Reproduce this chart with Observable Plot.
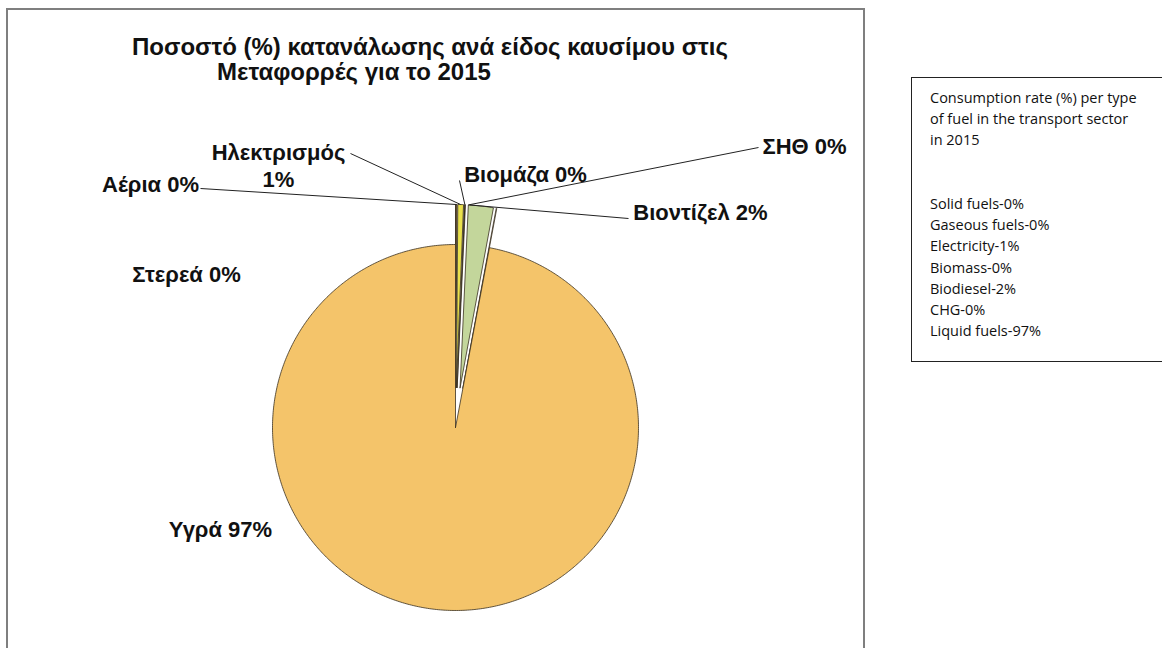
<!DOCTYPE html>
<html>
<head>
<meta charset="utf-8">
<script src="https://cdn.jsdelivr.net/npm/d3@7"></script>
<script src="https://cdn.jsdelivr.net/npm/@observablehq/plot@0.6"></script>
<style>
  html, body { margin: 0; padding: 0; background: #fff; overflow: hidden; }
  #wrap { position: relative; width: 1162px; height: 648px; overflow: hidden; }
  #frame { position: absolute; left: 6px; top: 8px; width: 859px; height: 650px; border: 2px solid #7f7f7f; box-sizing: border-box; pointer-events: none; }
  .tl { position: absolute; white-space: nowrap; font: bold 24px "Liberation Sans", Arial, sans-serif; color: #111; line-height: 26px; }
  #t1 { left: 132px; top: 34px; }
  #t2 { left: 217px; top: 59px; }
  #legend { position: absolute; left: 911px; top: 77px; width: 280px; height: 285px; border: 1px solid #222; box-sizing: border-box; font: 14.5px "Open Sans", sans-serif; color: #111; padding: 9px 0 0 18px; line-height: 21.2px; }
  #plot { position: absolute; left: 0; top: 0; }
</style>
</head>
<body>
<div id="wrap">
  <div id="plot"></div>
  <div id="frame"></div>
  <div class="tl" id="t1">Ποσοστό (%) κατανάλωσης ανά είδος καυσίμου στις</div>
  <div class="tl" id="t2">Μεταφορρές για το 2015</div>
  <div id="legend"></div>
</div>
<script>
// ---- data ----
const names = ["Στερεά", "Αέρια", "Ηλεκτρισμός", "Βιομάζα", "Βιοντίζελ", "ΣΗΘ", "Υγρά"];
const shares = [0.02, 0.1, 0.5, 0.1, 2.2, 0.05, 97.03];
const labels = ["Στερεά 0%", "Αέρια 0%", "Ηλεκτρισμός\n1%", "Βιομάζα 0%", "Βιοντίζελ 2%", "ΣΗΘ 0%", "Υγρά 97%"];
const legendTitle = ["Consumption rate (%) per type", "of fuel in the transport sector", "in 2015"];
const legendItems = ["Solid fuels-0%", "Gaseous fuels-0%", "Electricity-1%", "Biomass-0%", "Biodiesel-2%", "CHG-0%", "Liquid fuels-97%"];

// ---- style / layout ----
const colors = ["#4a3525", "#8a7050", "#e9e14c", "#2a2a18", "#c3d69b", "#ffffff", "#f4c46a"];
const explode = [40, 40, 40, 40, 40, 40, 0];
const R = 183, CX = 455, CY = 427;
// label centre in pixels, leader start, leader target slice & fraction along it
const labelPos = [
  {x: 186, y: 273, lead: null},
  {x: 150, y: 183, lead: {x: 200, y: 188, slice: 1, f: 0.5}},
  {x: 278, y: 164, lead: {x: 350, y: 153, slice: 2, f: 0.5}},
  {x: 525, y: 173, lead: {x: 459, y: 180, slice: 3, f: 0.5}},
  {x: 700, y: 211, lead: {x: 628, y: 218, slice: 4, f: 0.05}},
  {x: 804, y: 145, lead: {x: 758, y: 147, slice: 4, f: 0.0}},
  {x: 220, y: 528, lead: null}
];

document.getElementById("legend").innerHTML =
  legendTitle.join("<br>") + "<br><br><br>" + legendItems.join("<br>");

// ---- pie geometry from data (0 = 12 o'clock, clockwise) ----
const pie = d3.pie().sort(null).value(d => d)(shares);
const pts = [];
pie.forEach((p, i) => {
  const mid = (p.startAngle + p.endAngle) / 2;
  const ox = explode[i] * Math.sin(mid), oy = -explode[i] * Math.cos(mid);
  const n = Math.max(2, Math.ceil((p.endAngle - p.startAngle) / 0.01));
  pts.push({name: names[i], x: ox, y: oy});
  for (let k = 0; k <= n; k++) {
    const a = p.startAngle + (p.endAngle - p.startAngle) * k / n;
    pts.push({name: names[i], x: ox + R * Math.sin(a), y: oy - R * Math.cos(a)});
  }
  pts.push({name: names[i], x: ox, y: oy});
});

function outerPoint(i, f) {
  const p = pie[i];
  const mid = (p.startAngle + p.endAngle) / 2;
  const a = p.startAngle + (p.endAngle - p.startAngle) * f;
  return {x: explode[i] * Math.sin(mid) + R * Math.sin(a), y: -explode[i] * Math.cos(mid) - R * Math.cos(a)};
}

const textData = labels.map((t, i) => ({t, x: labelPos[i].x - CX, y: labelPos[i].y - CY}));
const leaders = labelPos.map(l => {
  if (!l.lead) return null;
  const e = outerPoint(l.lead.slice, l.lead.f);
  return {x1: l.lead.x - CX, y1: l.lead.y - CY, x2: e.x, y2: e.y};
}).filter(d => d);

const chart = Plot.plot({
  width: 1162, height: 648,
  margin: 0,
  x: {domain: [-CX, 1162 - CX], range: [0, 1162], axis: null},
  y: {domain: [-CY, 648 - CY], range: [0, 648], axis: null},
  color: {domain: names, range: colors},
  style: {background: "transparent", overflow: "visible"},
  marks: [
    Plot.line(pts, {x: "x", y: "y", z: "name", fill: "name", stroke: "#3a3020", strokeWidth: 0.8, curve: "linear", strokeLinejoin: "round"}),
    Plot.link(leaders, {x1: "x1", y1: "y1", x2: "x2", y2: "y2", stroke: "#222", strokeWidth: 1}),
    Plot.text(textData, {x: "x", y: "y", text: "t", fontSize: 22, fontWeight: "bold", fontFamily: "Liberation Sans, Arial, sans-serif", fill: "#111", lineHeight: 1.22})
  ]
});
document.getElementById("plot").appendChild(chart);
</script>
</body>
</html>
